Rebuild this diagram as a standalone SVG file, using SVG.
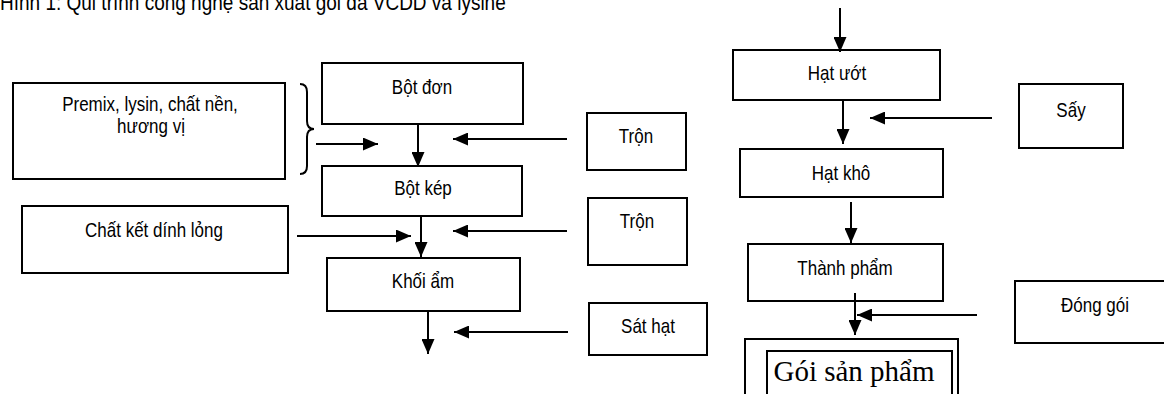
<svg xmlns="http://www.w3.org/2000/svg" width="1164" height="394" viewBox="0 0 1164 394">
<style>
.box{fill:#fff;stroke:#000;stroke-width:2}
.t{font-family:"Liberation Sans",Arial,sans-serif;font-size:17px;fill:#000;text-anchor:middle}
.ts{font-family:"Liberation Serif","Times New Roman",serif;font-size:29px;fill:#000;text-anchor:middle}
.c{stroke:#000;stroke-width:2;fill:none}
</style>
<defs>
<marker id="ah" viewBox="0 0 15 13" refX="15" refY="6.5" markerWidth="15" markerHeight="13" markerUnits="userSpaceOnUse" orient="auto">
<path d="M0,0 L15,6.5 L0,13 z" fill="#000"/>
</marker>
</defs>
<rect width="1164" height="394" fill="#fff"/>
<text transform="translate(0,10) scale(1,1.15)" font-family="Liberation Sans, Arial, sans-serif" font-size="19" fill="#000">Hình 1: Qui trình công nghệ sản xuất gói đa VCDD và lysine</text>

<g id="premix"><rect class="box" x="13" y="83" width="272" height="96"/><text class="t" transform="translate(150,111) scale(1,1.2)">Premix, lysin, chất nền,</text><text class="t" transform="translate(151,133) scale(1,1.2)">hương vị</text></g>
<g id="brace"><path class="c" d="M300,84 Q307,84 307,92 L307,121 Q307,129 314,129 Q307,129 307,137 L307,166 Q307,174 300,174"/></g>
<g id="botdon"><rect class="box" x="322" y="63" width="201" height="61"/><text class="t" transform="translate(422,94) scale(1,1.2)">Bột đơn</text></g>
<g id="botkep"><rect class="box" x="322" y="166" width="200" height="50"/><text class="t" transform="translate(423,195) scale(1,1.2)">Bột kép</text></g>
<g id="khoiam"><rect class="box" x="327" y="258" width="193" height="53"/><text class="t" transform="translate(423,288) scale(1,1.2)">Khối ẩm</text></g>
<g id="chatket"><rect class="box" x="22" y="206" width="266" height="67"/><text class="t" transform="translate(154,237) scale(1,1.2)">Chất kết dính lỏng</text></g>
<g id="tron1"><rect class="box" x="587" y="113" width="99" height="57"/><text class="t" transform="translate(636,143) scale(1,1.2)">Trộn</text></g>
<g id="tron2"><rect class="box" x="588" y="198" width="99" height="67"/><text class="t" transform="translate(637,228) scale(1,1.2)">Trộn</text></g>
<g id="sathat"><rect class="box" x="589" y="303" width="118" height="52"/><text class="t" transform="translate(648,333) scale(1,1.2)">Sát hạt</text></g>
<g id="hatuot"><rect class="box" x="733" y="50" width="207" height="50"/><text class="t" transform="translate(837,80) scale(1,1.2)">Hạt ướt</text></g>
<g id="say"><rect class="box" x="1019" y="84" width="104" height="64"/><text class="t" transform="translate(1071,117) scale(1,1.2)">Sấy</text></g>
<g id="hatkho"><rect class="box" x="740" y="149" width="203" height="48"/><text class="t" transform="translate(841,180) scale(1,1.2)">Hạt khô</text></g>
<g id="thanhpham"><rect class="box" x="748" y="244" width="195" height="57"/><text class="t" transform="translate(845,275) scale(1,1.2)">Thành phẩm</text></g>
<g id="donggoi"><rect class="box" x="1015" y="281" width="160" height="62"/><text class="t" transform="translate(1095,312) scale(1,1.2)">Đóng gói</text></g>
<g id="goisanpham"><path class="c" d="M745,396 L745,339 L958,339 L958,396"/><path class="c" d="M767,396 L767,351 L952,351 L952,396"/><text class="ts" x="854" y="381">Gói sản phẩm</text></g>

<g id="connectors" class="c">
<line x1="316" y1="144" x2="378" y2="144" marker-end="url(#ah)"/>
<line x1="418" y1="124" x2="418" y2="167" marker-end="url(#ah)"/>
<line x1="567" y1="139" x2="453" y2="139" marker-end="url(#ah)"/>
<line x1="297" y1="236" x2="411" y2="236" marker-end="url(#ah)"/>
<line x1="421" y1="216" x2="421" y2="257" marker-end="url(#ah)"/>
<line x1="567" y1="231" x2="453" y2="231" marker-end="url(#ah)"/>
<line x1="428" y1="311" x2="428" y2="354" marker-end="url(#ah)"/>
<line x1="568" y1="332" x2="454" y2="332" marker-end="url(#ah)"/>
<line x1="840" y1="8" x2="840" y2="52" marker-end="url(#ah)"/>
<line x1="843" y1="100" x2="843" y2="144" marker-end="url(#ah)"/>
<line x1="992" y1="118" x2="870" y2="118" marker-end="url(#ah)"/>
<line x1="851" y1="202" x2="851" y2="243" marker-end="url(#ah)"/>
<line x1="855" y1="293" x2="855" y2="335" marker-end="url(#ah)"/>
<line x1="977" y1="315" x2="857" y2="315" marker-end="url(#ah)"/>
</g>
</svg>
